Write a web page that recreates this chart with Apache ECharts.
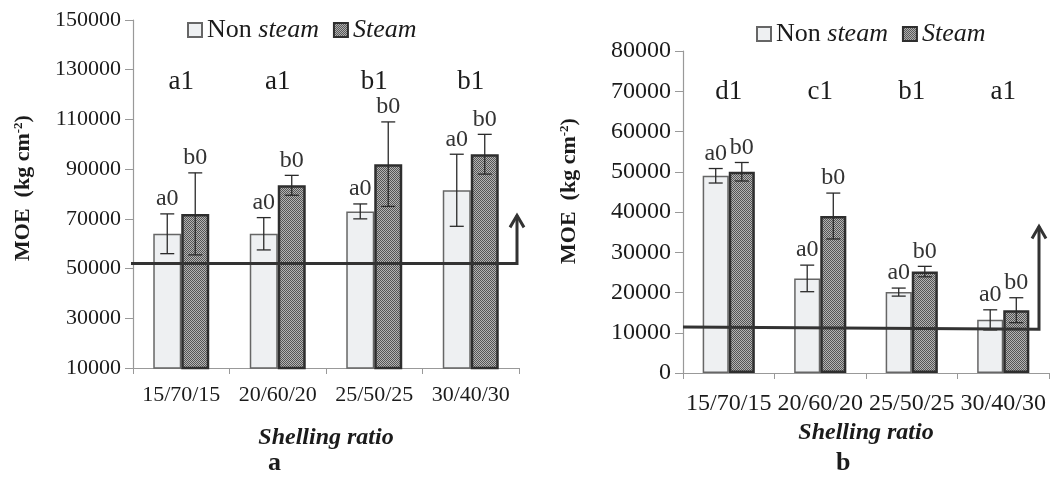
<!DOCTYPE html>
<html>
<head>
<meta charset="utf-8">
<script src="https://cdn.jsdelivr.net/npm/echarts@6/dist/echarts.min.js"></script>
<style>
  html, body { margin: 0; padding: 0; background: #fff; }
  #chart { width: 1051px; height: 477px; }
</style>
</head>
<body>
<div id="chart"></div>
<script>
// shelling ratios (categories)
var ratios = ['15/70/15', '20/60/20', '25/50/25', '30/40/30'];

// panel a: MOE
var aNonSteam = [64000, 64000, 73000, 81500];
var aNonSteamErr = [8000, 6500, 3000, 14500];
var aSteam = [72000, 83500, 92000, 96000];
var aSteamErr = [16500, 4000, 17000, 8000];
var aGroupLetters = ['a1', 'a1', 'b1', 'b1'];
var aNonSteamLetters = ['a0', 'a0', 'a0', 'a0'];
var aSteamLetters = ['b0', 'b0', 'b0', 'b0'];
var aTicks = [10000, 30000, 50000, 70000, 90000, 110000, 130000, 150000];
var aLevel = [52000, 52000]; // reference line, left and right end
var aArrowTip = 71400;

// panel b
var bNonSteam = [49000, 23500, 20100, 13200];
var bNonSteamErr = [1800, 3300, 1000, 2500];
var bSteam = [50000, 39000, 25200, 15600];
var bSteamErr = [2300, 5700, 1300, 3100];
var bGroupLetters = ['d1', 'c1', 'b1', 'a1'];
var bNonSteamLetters = ['a0', 'a0', 'a0', 'a0'];
var bSteamLetters = ['b0', 'b0', 'b0', 'b0'];
var bLevel = [11400, 10900];
var bArrowTip = 36400;

var serif = '"Liberation Serif", "DejaVu Serif", serif';
var ink = '#1b1b1b';

// stippled fill for the steam bars
var pat = document.createElement('canvas');
pat.width = 2; pat.height = 2;
var pctx = pat.getContext('2d');
pctx.fillStyle = '#b4b4b4'; pctx.fillRect(0, 0, 2, 2);
pctx.fillStyle = '#555'; pctx.fillRect(0, 0, 1, 1); pctx.fillRect(1, 1, 1, 1);
var steamFill = { image: pat, repeat: 'repeat' };

var gaps = [0.42, 0.43];

var myChart = echarts.init(document.getElementById('chart'));

function barSeries(name, idx, data, steam) {
  return {
    name: name,
    type: 'bar',
    xAxisIndex: idx,
    yAxisIndex: idx,
    data: data,
    barGap: '0%',
    barCategoryGap: (gaps[idx] * 100) + '%',
    itemStyle: steam
      ? { color: steamFill, borderColor: '#2e2e2e', borderWidth: 2.5 }
      : { color: '#eef0f2', borderColor: '#666', borderWidth: 1.5 },
    emphasis: { disabled: true }
  };
}

function errorSeries(idx, vals, errs, letters, side) {
  return {
    type: 'custom',
    xAxisIndex: idx,
    yAxisIndex: idx,
    z: 10,
    silent: true,
    data: vals.map(function (v, i) { return [i, v - errs[i], v + errs[i]]; }),
    renderItem: function (params, api) {
      var cw = api.size([1, 0])[0];
      var bw = cw * (1 - gaps[idx]) / 2;
      var x = api.coord([api.value(0), api.value(2)])[0] + side * bw / 2;
      var lo = api.coord([api.value(0), api.value(1)])[1];
      var hi = api.coord([api.value(0), api.value(2)])[1];
      var cap = 7;
      var st = { stroke: '#2a2a2a', lineWidth: 1.3 };
      return {
        type: 'group',
        children: [
          { type: 'line', shape: { x1: x, y1: lo, x2: x, y2: hi }, style: st },
          { type: 'line', shape: { x1: x - cap, y1: hi, x2: x + cap, y2: hi }, style: st },
          { type: 'line', shape: { x1: x - cap, y1: lo, x2: x + cap, y2: lo }, style: st },
          {
            type: 'text', x: x, y: hi - 3,
            style: {
              text: letters[params.dataIndex], fill: '#333', font: '24px ' + serif,
              align: 'center', verticalAlign: 'bottom'
            }
          }
        ]
      };
    }
  };
}

function groupLetterSeries(idx, letters, offset) {
  return {
    type: 'custom',
    xAxisIndex: idx,
    yAxisIndex: idx,
    silent: true,
    data: letters.map(function (l, i) { return [i]; }),
    renderItem: function (params, api) {
      var x = api.coord([api.value(0), 0])[0];
      return {
        type: 'text', x: x, y: params.coordSys.y + offset,
        style: {
          text: letters[params.dataIndex], fill: ink, font: '27px ' + serif,
          align: 'center', verticalAlign: 'middle'
        }
      };
    }
  };
}

function legendOf(left, top) {
  return {
    left: left, top: top,
    icon: 'rect',
    itemWidth: 14, itemHeight: 14, itemGap: 14,
    data: ['Non steam', 'Steam'],
    selectedMode: false,
    formatter: function (name) {
      return name === 'Non steam' ? '{r|Non }{i|steam}' : '{i|Steam}';
    },
    textStyle: {
      color: ink,
      rich: {
        r: { fontFamily: serif, fontSize: 26, color: ink },
        i: { fontFamily: serif, fontSize: 26, fontStyle: 'italic', color: ink }
      }
    }
  };
}

function yName(gap, pad) {
  return {
    name: '{b|MOE  (kg cm}{s|-2}{b|)}',
    nameLocation: 'middle',
    nameRotate: 90,
    nameGap: gap,
    nameTextStyle: {
      padding: [0, 0, 0, pad],
      rich: {
        b: { fontFamily: serif, fontSize: 22, fontWeight: 'bold', color: ink },
        s: { fontFamily: serif, fontSize: 13, fontWeight: 'bold', color: ink, verticalAlign: 'top' }
      }
    }
  };
}

var axisLine = { show: true, lineStyle: { color: '#999', width: 1.2 } };
var plain = function (v) { return String(v); };

var option = {
  animation: false,
  backgroundColor: '#fff',
  legend: [legendOf(182, 12), legendOf(751, 16)],
  grid: [
    { left: 133, right: 532, top: 20, bottom: 109 },
    { left: 683, right: 2, top: 51, bottom: 104 }
  ],
  xAxis: [0, 1].map(function (i) {
    return {
      type: 'category',
      gridIndex: i,
      data: ratios,
      name: 'Shelling ratio',
      nameLocation: 'middle',
      nameGap: i === 0 ? 58 : 47,
      nameTextStyle: { fontFamily: serif, fontSize: 24, fontWeight: 'bold', fontStyle: 'italic', color: ink },
      axisLine: axisLine,
      axisTick: { show: true, length: 6, lineStyle: { color: '#999' } },
      axisLabel: {
        interval: 0, hideOverlap: false, margin: i === 0 ? 16 : 19,
        fontFamily: serif, fontSize: i === 0 ? 22 : 24, color: ink
      },
      splitLine: { show: false }
    };
  }),
  yAxis: [
    Object.assign({
      type: 'value', gridIndex: 0, min: 10000, max: 150000,
      axisLine: axisLine,
      axisTick: { show: true, length: 8, customValues: aTicks, lineStyle: { color: '#999' } },
      axisLabel: { customValues: aTicks, formatter: plain, margin: 12, fontFamily: serif, fontSize: 22, color: ink },
      splitLine: { show: false }
    }, yName(99, 12)),
    Object.assign({
      type: 'value', gridIndex: 1, min: 0, max: 80000, interval: 10000,
      axisLine: axisLine,
      axisTick: { show: true, length: 8, lineStyle: { color: '#999' } },
      axisLabel: { formatter: plain, margin: 12, fontFamily: serif, fontSize: 24, color: ink },
      splitLine: { show: false }
    }, yName(103, 42))
  ],
  series: [
    barSeries('Non steam', 0, aNonSteam, false),
    barSeries('Steam', 0, aSteam, true),
    barSeries('Non steam', 1, bNonSteam, false),
    barSeries('Steam', 1, bSteam, true),
    errorSeries(0, aNonSteam, aNonSteamErr, aNonSteamLetters, -1),
    errorSeries(0, aSteam, aSteamErr, aSteamLetters, 1),
    errorSeries(1, bNonSteam, bNonSteamErr, bNonSteamLetters, -1),
    errorSeries(1, bSteam, bSteamErr, bSteamLetters, 1),
    groupLetterSeries(0, aGroupLetters, 62),
    groupLetterSeries(1, bGroupLetters, 41)
  ]
};

myChart.setOption(option);

// reference line with arrow, drawn from the value axes
function arrowLine(idx, level, tip, x0, x1) {
  var y0 = myChart.convertToPixel({ yAxisIndex: idx }, level[0]);
  var y1 = myChart.convertToPixel({ yAxisIndex: idx }, level[1]);
  var yt = myChart.convertToPixel({ yAxisIndex: idx }, tip);
  var st = { stroke: '#333', lineWidth: 3, fill: null, lineJoin: 'miter' };
  return [
    { type: 'polyline', z: 100, shape: { points: [[x0, y0], [x1, y1], [x1, yt]] }, style: st },
    { type: 'polyline', z: 100, shape: { points: [[x1 - 7, yt + 12], [x1, yt], [x1 + 7, yt + 12]] }, style: st }
  ];
}

var gfx = arrowLine(0, aLevel, aArrowTip, 131, 517)
  .concat(arrowLine(1, bLevel, bArrowTip, 683, 1039));
gfx.push(
  { type: 'text', left: 268, top: 450, style: { text: 'a', font: 'bold 26px ' + serif, fill: ink } },
  { type: 'text', left: 836, top: 450, style: { text: 'b', font: 'bold 26px ' + serif, fill: ink } }
);
myChart.setOption({ graphic: gfx });
</script>
</body>
</html>
